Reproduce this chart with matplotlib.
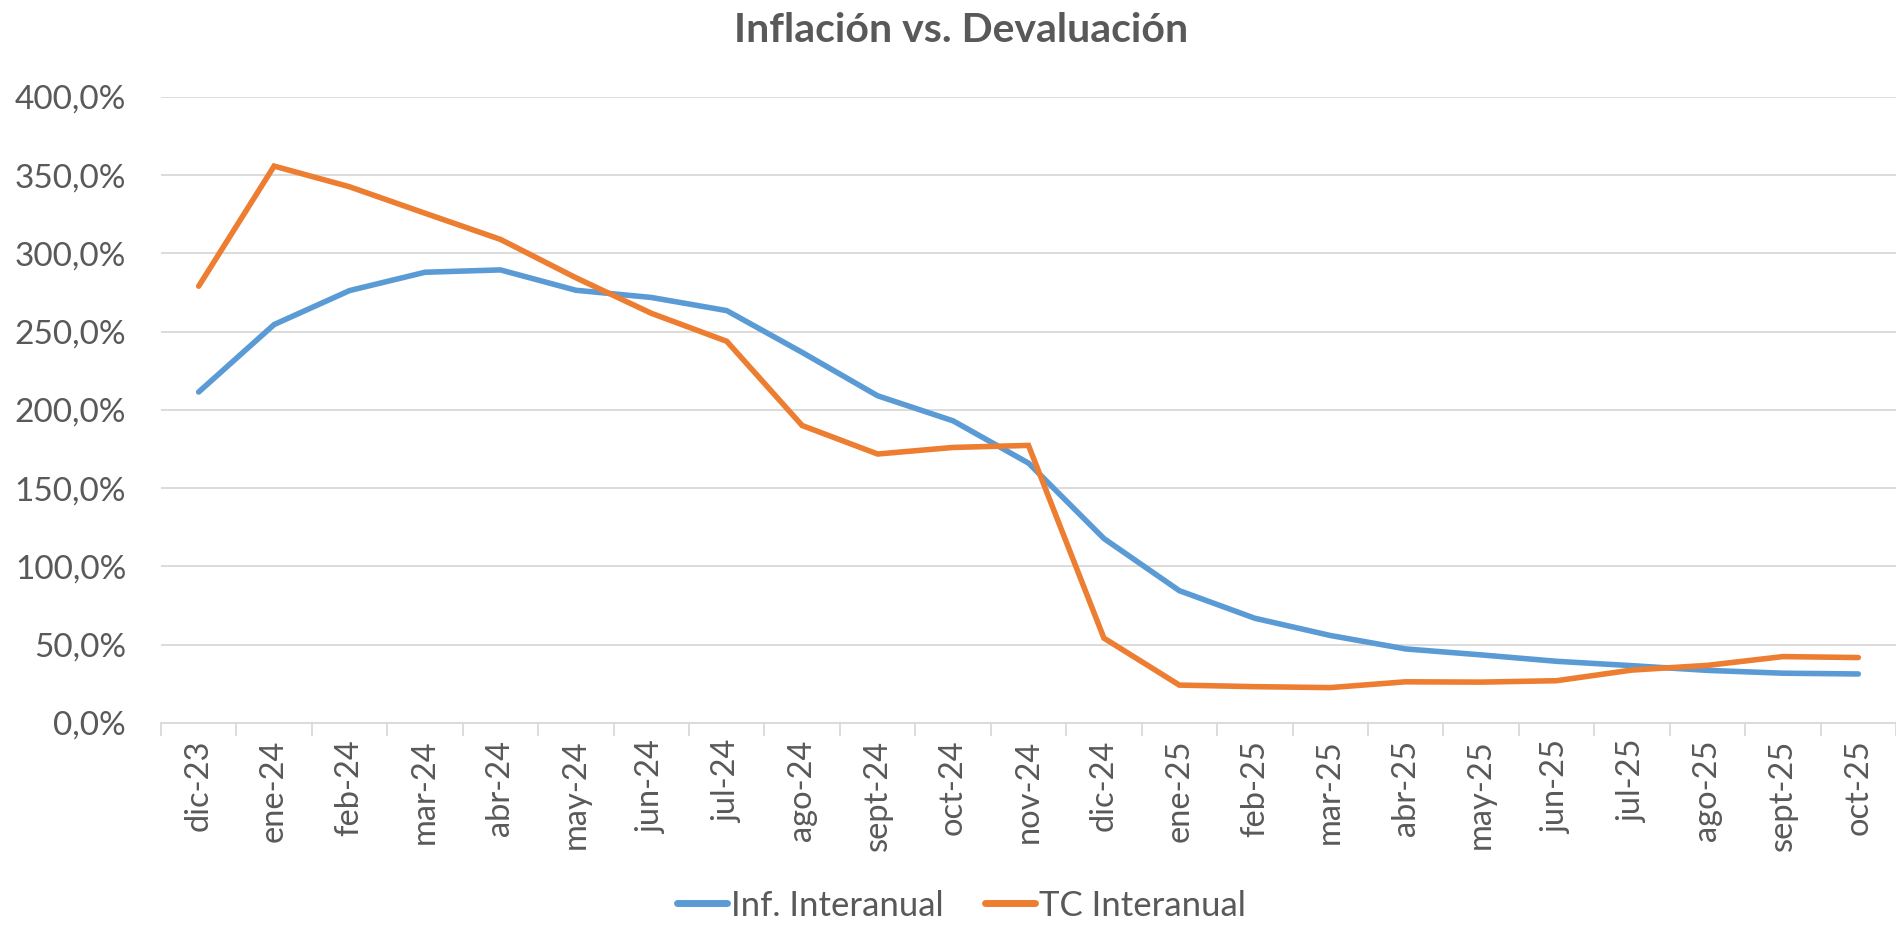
import matplotlib
matplotlib.use("Agg")
import matplotlib.pyplot as plt
from matplotlib.ticker import FuncFormatter, FixedLocator

months = ["dic-23", "ene-24", "feb-24", "mar-24", "abr-24", "may-24", "jun-24",
          "jul-24", "ago-24", "sept-24", "oct-24", "nov-24", "dic-24", "ene-25",
          "feb-25", "mar-25", "abr-25", "may-25", "jun-25", "jul-25", "ago-25",
          "sept-25", "oct-25"]
inflacion = [211.4, 254.5, 276.2, 287.9, 289.4, 276.4, 271.8, 263.4, 236.7, 209.0,
             193.0, 166.0, 117.8, 84.5, 66.9, 55.9, 47.3, 43.5, 39.4, 36.6, 33.6,
             31.8, 31.3]
tc = [279.0, 355.7, 342.5, 325.6, 308.9, 284.4, 261.7, 243.8, 190.0, 171.8,
      176.0, 177.3, 54.2, 24.2, 23.2, 22.6, 26.3, 26.1, 27.0, 33.8, 36.8,
      42.4, 41.8]

txt = "#595959"
grid = "#D9D9D9"
plt.rcParams["font.family"] = ["Lato", "DejaVu Sans"]

fig = plt.figure(figsize=(18.96, 9.25), dpi=100)
ax = fig.add_axes([0.0849, 0.2184, 0.9151, 0.677])

x = list(range(len(months)))
ax.plot(x, inflacion, color="#5B9BD5", lw=4, solid_capstyle="round",
        solid_joinstyle="miter", label="Inf. Interanual")
ax.plot(x, tc, color="#ED7D31", lw=4, solid_capstyle="round",
        solid_joinstyle="miter", label="TC Interanual")

ax.set_xlim(-0.5, len(months) - 0.5)
ax.set_ylim(0, 400)
ax.set_yticks(range(0, 401, 50))
ax.yaxis.set_major_formatter(FuncFormatter(lambda v, p: f"{v:.1f}%".replace(".", ",")))
ax.grid(axis="y", color=grid, lw=1.3)
ax.set_axisbelow(True)

ax.set_xticks(x)
ax.set_xticklabels(months, rotation=90)
ax.xaxis.set_minor_locator(FixedLocator([i - 0.5 for i in range(len(months) + 1)]))
ax.tick_params(axis="x", which="major", length=0, pad=12, labelsize=23.5, labelcolor=txt)
ax.tick_params(axis="x", which="minor", length=9, width=1.3, color=grid)
ax.tick_params(axis="y", length=0, pad=25, labelsize=24, labelcolor=txt)

for s in ["left", "right", "top"]:
    ax.spines[s].set_visible(False)
ax.spines["bottom"].set_color(grid)
ax.spines["bottom"].set_linewidth(1.3)

fig.text(0.507, 0.967, "Inflación vs. Devaluación", ha="center", va="center",
         fontsize=29.5, fontweight="bold", color=txt)

leg = fig.legend(loc="lower center", bbox_to_anchor=(0.507, -0.03), ncol=2,
                 frameon=False, fontsize=25, handlelength=1.45, handletextpad=0.1,
                 columnspacing=1.2)
for t in leg.get_texts():
    t.set_color(txt)
for h in leg.get_lines():
    h.set_linewidth(5)

fig.savefig("out.png", dpi=100)
